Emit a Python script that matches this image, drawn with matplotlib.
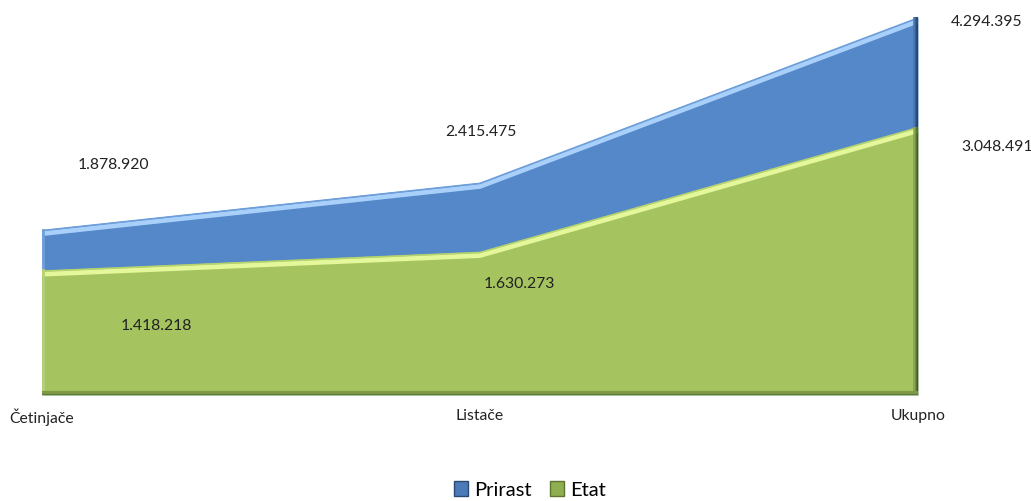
import matplotlib.pyplot as plt
import matplotlib.transforms as mtransforms
from matplotlib.patches import Patch
import numpy as np

categories = ['Četinjače', 'Listače', 'Ukupno']
prirast = [1878920, 2415475, 4294395]
etat = [1418218, 1630273, 3048491]

labels_prirast = ['1.878.920', '2.415.475', '4.294.395']
labels_etat = ['1.418.218', '1.630.273', '3.048.491']

plt.rcParams['font.family'] = ['Lato', 'DejaVu Sans']

W, H = 1031, 501
fig = plt.figure(figsize=(W / 100, H / 100), dpi=100)
ax = fig.add_axes([42 / W, (H - 395) / H, (918 - 42) / W, 395 / H])
x = np.arange(len(categories))
ax.set_xlim(0, 2)
ax.set_ylim(0, max(prirast) * 395 / 378)


def shifted(dx, dy):
    return mtransforms.offset_copy(ax.transData, fig=fig, x=dx, y=dy, units='dots')


def bevel_area(vals, face, light, right_cols, edge):
    ax.fill_between(x, 0, vals, color=face, lw=0, zorder=2)
    # highlight just under the top edge
    ax.plot(x, vals, color=light, lw=3.5, transform=shifted(0, -4), zorder=3, solid_capstyle='butt')
    ax.plot(x, vals, color=edge, lw=1.2, transform=shifted(0, -1), zorder=3, solid_capstyle='butt')
    # shaded right edge, darker towards the outside
    for k, c in enumerate(right_cols):
        ax.plot([2, 2], [0, vals[-1]], color=c, lw=1.2, transform=shifted(-0.6 - k, 0),
                zorder=3, solid_capstyle='butt')
    # left edge
    ax.plot([0, 0], [0, vals[0]], color=edge, lw=2, transform=shifted(1, 0), zorder=3)


bevel_area(prirast, '#5588C8', '#A8D0FA', ['#1E3552', '#2E4E78', '#3D6599', '#4A78B4'], '#6E9FDA')
bevel_area(etat, '#A5C460', '#E4F79A', ['#4A5A26', '#617635', '#7A9444', '#90AE52'], '#B5D36E')
# bottom shaded edge
ax.plot([0, 2], [0, 0], color='#7E9A45', lw=3, transform=shifted(0, 2), zorder=3, solid_capstyle='butt')
ax.plot([0, 2], [0, 0], color='#637A34', lw=1.5, transform=shifted(0, 0.5), zorder=3, solid_capstyle='butt')

for spine in ax.spines.values():
    spine.set_visible(False)
ax.set_yticks([])
ax.set_xticks(x)
ax.set_xticklabels(categories, fontsize=11.3, color='#222222')
ax.tick_params(axis='x', length=0, pad=10)

off_p = [(71, 65), (1, 50), (69, -5)]
off_e = [(114, -56), (39, -32), (79, -20)]
for i in range(3):
    ax.annotate(labels_prirast[i], (x[i], prirast[i]), xytext=off_p[i], textcoords='offset pixels',
                ha='center', va='center', fontsize=11.3, color='#222222', zorder=5)
    ax.annotate(labels_etat[i], (x[i], etat[i]), xytext=off_e[i], textcoords='offset pixels',
                ha='center', va='center', fontsize=11.3, color='#222222', zorder=5)

handles = [Patch(facecolor='#4A7AB8', edgecolor='#2A4A72', label='Prirast'),
           Patch(facecolor='#8FAE50', edgecolor='#5E7330', label='Etat')]
fig.legend(handles=handles, loc='center', bbox_to_anchor=(530 / W, 1 - 490 / H), ncol=2,
           frameon=False, fontsize=14.5, handlelength=0.7, handleheight=0.7,
           handletextpad=0.3, columnspacing=0.9)

fig.savefig('out.png', dpi=100)
